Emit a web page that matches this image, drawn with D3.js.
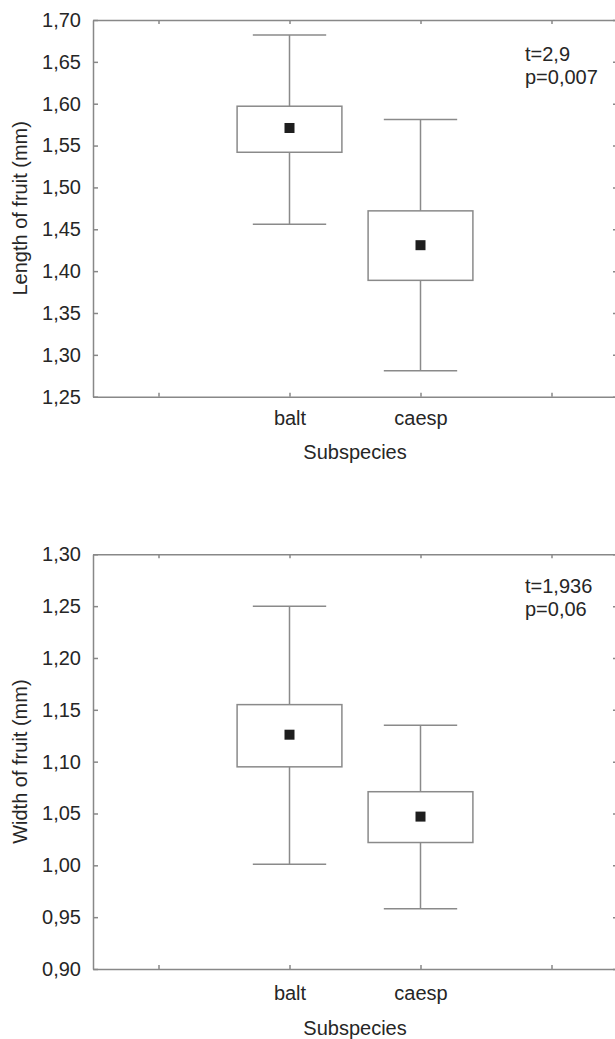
<!DOCTYPE html>
<html>
<head>
<meta charset="utf-8">
<script src="https://cdn.jsdelivr.net/npm/d3@7"></script>
<style>
  body { margin: 0; background: #fff; }
  svg { display: block; font-family: "Liberation Sans", Arial, sans-serif; }
  .axis path, .axis line { stroke: #888; stroke-width: 1.5; }
  .axis text { fill: #262626; font-size: 20px; }
</style>
</head>
<body>
<div id="chart"></div>
<script>
// Fruit size by subspecies - box plots (mean, box, whiskers)

// Data
const slots = [1, 2, 3, 4];
const slotLabels = ['', 'balt', 'caesp', ''];
const subspecies = ['balt', 'caesp'];
const subspeciesSlot = [2, 3];

const lengthWhiskerLow = [1.456, 1.281];
const lengthBoxLow = [1.542, 1.389];
const lengthMean = [1.571, 1.431];
const lengthBoxHigh = [1.597, 1.472];
const lengthWhiskerHigh = [1.682, 1.581];
const lengthTicks = [1.25, 1.30, 1.35, 1.40, 1.45, 1.50, 1.55, 1.60, 1.65, 1.70];

const widthWhiskerLow = [1.001, 0.958];
const widthBoxLow = [1.095, 1.022];
const widthMean = [1.126, 1.047];
const widthBoxHigh = [1.155, 1.071];
const widthWhiskerHigh = [1.250, 1.135];
const widthTicks = [0.90, 0.95, 1.00, 1.05, 1.10, 1.15, 1.20, 1.25, 1.30];

const W = 615, H = 1039;

const svg = d3.select('#chart')
  .append('svg')
  .attr('width', W)
  .attr('height', H);

const fmt = v => d3.format('.2f')(v).replace('.', ',');

function drawPanel(opts) {
  const left = 93, right = 617;
  const x = d3.scaleLinear().domain([0.5, 4.5]).range([left, right]);
  const y = d3.scaleLinear().domain(opts.domain).range([opts.bottom, opts.top]);

  const g = svg.append('g');

  // frame axes, ticks pointing inward
  g.append('g')
    .attr('class', 'axis')
    .attr('transform', `translate(${left},0)`)
    .call(d3.axisLeft(y).tickValues(opts.ticks).tickFormat(fmt).tickSize(-5).tickSizeOuter(0).tickPadding(12));

  g.append('g')
    .attr('class', 'axis')
    .attr('transform', `translate(${right},0)`)
    .call(d3.axisRight(y).tickValues(opts.ticks).tickFormat('').tickSize(-4).tickSizeOuter(0));

  g.append('g')
    .attr('class', 'axis')
    .attr('transform', `translate(0,${opts.bottom})`)
    .call(d3.axisBottom(x).tickValues(slots).tickFormat((d, i) => slotLabels[i]).tickSize(-4).tickSizeOuter(0).tickPadding(opts.labelPad));

  g.append('g')
    .attr('class', 'axis')
    .attr('transform', `translate(0,${opts.top})`)
    .call(d3.axisTop(x).tickValues(slots).tickFormat('').tickSize(-4).tickSizeOuter(0));

  g.selectAll('.domain').attr('stroke', '#888').attr('stroke-width', 1.6);

  // boxes
  const boxes = g.selectAll('.box')
    .data(subspecies)
    .enter()
    .append('g')
    .attr('class', 'box');

  const stroke = '#8a8a8a';

  boxes.append('line')
    .attr('x1', (d, i) => x(subspeciesSlot[i]))
    .attr('x2', (d, i) => x(subspeciesSlot[i]))
    .attr('y1', (d, i) => y(opts.whiskerHigh[i]))
    .attr('y2', (d, i) => y(opts.boxHigh[i]))
    .attr('stroke', stroke).attr('stroke-width', 1.5);

  boxes.append('line')
    .attr('x1', (d, i) => x(subspeciesSlot[i]))
    .attr('x2', (d, i) => x(subspeciesSlot[i]))
    .attr('y1', (d, i) => y(opts.boxLow[i]))
    .attr('y2', (d, i) => y(opts.whiskerLow[i]))
    .attr('stroke', stroke).attr('stroke-width', 1.5);

  ['whiskerHigh', 'whiskerLow'].forEach(key => {
    boxes.append('line')
      .attr('x1', (d, i) => x(subspeciesSlot[i] - 0.28))
      .attr('x2', (d, i) => x(subspeciesSlot[i] + 0.28))
      .attr('y1', (d, i) => y(opts[key][i]))
      .attr('y2', (d, i) => y(opts[key][i]))
      .attr('stroke', stroke).attr('stroke-width', 1.5);
  });

  boxes.append('rect')
    .attr('x', (d, i) => x(subspeciesSlot[i] - 0.4))
    .attr('width', (d, i) => x(subspeciesSlot[i] + 0.4) - x(subspeciesSlot[i] - 0.4))
    .attr('y', (d, i) => y(opts.boxHigh[i]))
    .attr('height', (d, i) => y(opts.boxLow[i]) - y(opts.boxHigh[i]))
    .attr('fill', 'none')
    .attr('stroke', stroke).attr('stroke-width', 1.5);

  boxes.append('rect')
    .attr('x', (d, i) => x(subspeciesSlot[i]) - 5)
    .attr('y', (d, i) => y(opts.mean[i]) - 5)
    .attr('width', 10)
    .attr('height', 10)
    .attr('fill', '#1e1e1e');

  // titles
  g.append('text')
    .attr('transform', `translate(27,${(opts.top + opts.bottom) / 2}) rotate(-90)`)
    .attr('text-anchor', 'middle')
    .attr('font-size', 20)
    .attr('fill', '#262626')
    .text(opts.yTitle);

  g.append('text')
    .attr('x', (x(2) + x(3)) / 2)
    .attr('y', opts.bottom + opts.xTitleOffset)
    .attr('text-anchor', 'middle')
    .attr('font-size', 20)
    .attr('fill', '#262626')
    .text('Subspecies');

  // test statistics
  const stat = g.append('text')
    .attr('x', 525)
    .attr('y', opts.statY)
    .attr('font-size', 20)
    .attr('fill', '#262626');
  stat.append('tspan').attr('x', 525).text(opts.tText);
  stat.append('tspan').attr('x', 525).attr('dy', 23).text(opts.pText);
}

drawPanel({
  domain: [1.25, 1.70], top: 20, bottom: 396.7, ticks: lengthTicks,
  whiskerLow: lengthWhiskerLow, boxLow: lengthBoxLow, mean: lengthMean,
  boxHigh: lengthBoxHigh, whiskerHigh: lengthWhiskerHigh,
  yTitle: 'Length of fruit (mm)', labelPad: 14, xTitleOffset: 62,
  statY: 61, tText: 't=2,9', pText: 'p=0,007'
});

drawPanel({
  domain: [0.90, 1.30], top: 554.3, bottom: 969, ticks: widthTicks,
  whiskerLow: widthWhiskerLow, boxLow: widthBoxLow, mean: widthMean,
  boxHigh: widthBoxHigh, whiskerHigh: widthWhiskerHigh,
  yTitle: 'Width of fruit (mm)', labelPad: 17, xTitleOffset: 66,
  statY: 593, tText: 't=1,936', pText: 'p=0,06'
});
</script>
</body>
</html>
